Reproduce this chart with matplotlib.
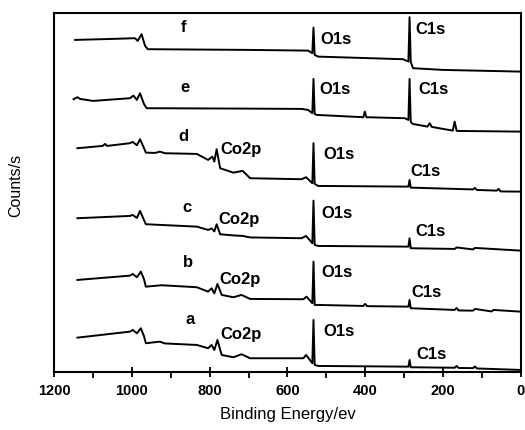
import matplotlib
matplotlib.use('Agg')
import matplotlib.pyplot as plt
from matplotlib.ticker import MultipleLocator

# binding energy (eV) and intensity (arb. units, stacked)
e_f = [1146, 1050, 992, 985, 975, 966, 959, 700, 547, 536, 533, 530, 521, 303, 289, 286, 283, 277, 200, 0]
i_f = [332, 333, 333.7, 331, 337.7, 326, 322.7, 322, 321.3, 318.7, 344.3, 317, 315.3, 312.7, 310.3, 354.7, 310, 303.7, 302, 300.3]

e_e = [1150, 1140, 1133, 1100, 1005, 996, 987, 979, 969, 962, 700, 564, 547, 536, 533, 530, 525,
       405, 401, 397, 298, 289, 286, 283, 278, 240, 234, 229, 175, 170, 165, 0]
i_e = [272.7, 274.7, 273, 271, 273.7, 276.3, 272, 278.7, 268, 263.7, 263.3, 263, 262, 258.7, 293, 258, 257,
       254.7, 260.3, 254.7, 253.7, 252, 293, 250, 248, 245.3, 248.7, 245, 241.3, 250.3, 241, 240.3]

e_d = [1140, 1075, 1069, 1064, 1005, 998, 987, 979, 969, 964, 940, 928, 915, 833, 804, 793, 788, 782,
       773, 739, 715, 696, 564, 552, 536, 533, 530, 521, 289, 286, 283, 123, 118, 113, 62, 57, 52, 0]
i_d = [223.7, 226, 228, 226, 228.7, 230, 226.7, 232.7, 224, 219.3, 219, 220.3, 218.7, 218, 212, 215.3, 210.3, 222.7,
       203.7, 199.3, 201, 193.7, 192.7, 194.7, 188.7, 228.7, 188, 186, 185.3, 192, 184.3, 182.5, 184, 182, 181.3, 183, 180.5, 180.3]

e_c = [1140, 1005, 998, 987, 979, 969, 964, 833, 804, 795, 788, 782, 773, 739, 715, 696, 564, 552,
       536, 533, 530, 521, 289, 286, 283, 170, 165, 123, 118, 0]
i_c = [153.7, 156, 157, 154, 161, 152, 147.7, 145.3, 142, 143.5, 140.5, 147.7, 137.7, 136.5, 136, 134.5, 133.7, 136,
       128.7, 171.3, 127, 126, 125.3, 133.7, 123.7, 123, 124.5, 122.5, 124, 121.3]

e_b = [1140, 1005, 998, 987, 977, 969, 964, 923, 833, 804, 795, 788, 780, 769, 739, 718, 696, 559, 551,
       536, 533, 530, 521, 405, 400, 395, 289, 286, 283, 170, 165, 160, 123, 118, 75, 70, 0]
i_b = [92, 96.3, 98, 94.7, 100.3, 93, 85.3, 86.7, 84.7, 80.3, 83.7, 78.5, 88, 77, 74.7, 77, 73, 72.7, 75.3,
       68.7, 110.3, 67, 67, 66, 68, 65.8, 65.3, 72, 63.7, 62, 64, 61.5, 61.3, 63, 60.5, 62, 60.3]

e_a = [1140, 1005, 998, 987, 977, 969, 964, 928, 915, 833, 804, 795, 788, 780, 769, 739, 718, 696, 559, 552,
       536, 533, 530, 521, 289, 286, 283, 170, 165, 160, 123, 118, 113, 0]
i_a = [34.3, 40.3, 42, 38.7, 43.7, 36, 28.7, 30.3, 28.5, 27, 23.7, 27, 22, 32, 17, 14.7, 17.7, 13.7, 13.7, 17,
       8.7, 52, 7, 6, 5.3, 12, 4.7, 4.2, 6, 4, 3.8, 5.5, 3.5, 2]

spectra = [(e_a, i_a), (e_b, i_b), (e_c, i_c), (e_d, i_d), (e_e, i_e), (e_f, i_f)]

# sample letters and peak labels (energy, intensity)
letters = ['a', 'b', 'c', 'd', 'e', 'f']
letter_pos = [(851, 52), (856, 109), (858, 164), (868, 235), (863, 284), (868, 344)]
o1s_pos = [(508, 40.3), (514, 99.3), (514, 158.7), (508, 217), (519, 282), (516, 332.7)]
c1s_pos = [(268, 17), (281, 79.3), (272, 140.3), (283, 200.3), (264, 282.7), (272, 342.7)]
co2p_pos = [(773, 37), (775, 92.7), (778, 152), (773, 222)]

plt.rcParams['font.family'] = ['Liberation Sans', 'DejaVu Sans']

fig = plt.figure(figsize=(5.25, 4.3), dpi=100)
ax = fig.add_axes([0.103, 0.135, 0.889, 0.835])

for x, y in spectra:
    ax.plot(x, y, c='black', lw=1.4)

for s, (x, y) in zip(letters, letter_pos):
    ax.text(x, y, s, fontsize=12, fontweight='bold', ha='center', va='center')
for x, y in o1s_pos:
    ax.text(x, y, 'O1s', fontsize=12, fontweight='bold', ha='left', va='center')
for x, y in c1s_pos:
    ax.text(x, y, 'C1s', fontsize=12, fontweight='bold', ha='left', va='center')
for x, y in co2p_pos:
    ax.text(x, y, 'Co2p', fontsize=12, fontweight='bold', ha='left', va='center')

ax.set_xlim(1200, 0)
ax.set_ylim(0, 359)
ax.xaxis.set_major_locator(MultipleLocator(200))
ax.xaxis.set_minor_locator(MultipleLocator(100))
ax.tick_params(axis='x', which='major', direction='inout', length=7, width=1.3, labelsize=10.5, pad=5)
ax.tick_params(axis='x', which='minor', direction='out', length=4, width=1.3)
for lab in ax.get_xticklabels():
    lab.set_fontweight('bold')
ax.set_yticks([])
for sp in ax.spines.values():
    sp.set_linewidth(1.5)

ax.set_xlabel('Binding Energy/ev', fontsize=12, labelpad=7)
ax.set_ylabel('Counts/s', fontsize=11.5)
ax.yaxis.set_label_coords(-0.065, 0.52)

fig.savefig('out.png', dpi=100)
